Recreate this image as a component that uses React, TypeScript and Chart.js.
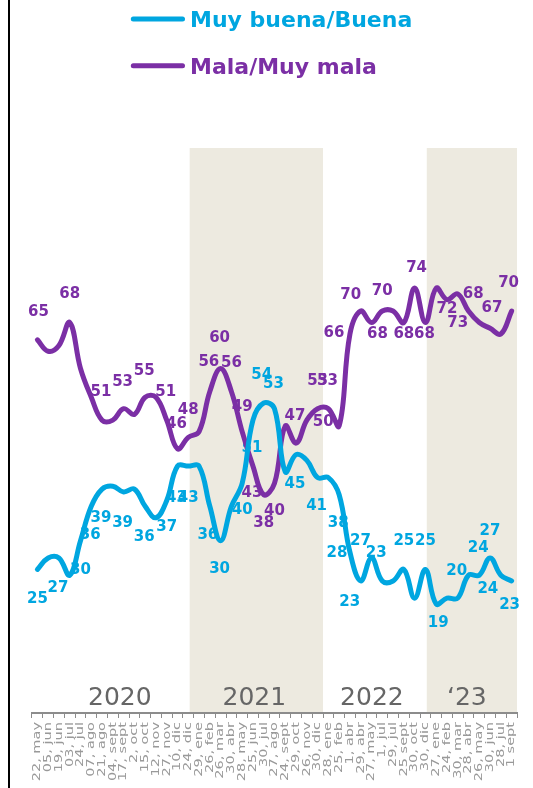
import React, { useEffect, useRef } from 'react';
import { Chart, registerables } from 'chart.js';

Chart.register(...registerables);

// ---------------- data ----------------
const categories = [
  '22, may', '05, jun', '19, jun', '03, jul', '24, jul', '07, ago', '21, ago', '04, sept', '17, sept',
  '2, oct', '15, oct', '12, nov', '27, nov', '10, dic', '24, dic',
  '29, ene', '26, feb', '26, mar', '30, abr', '28, may', '25, jun', '30, jul', '27, ago', '24, sept',
  '29, oct', '26, nov', '30, dic',
  '28, ene', '25, feb', '1, abr', '29, abr', '27, may', '1, jul', '29, jul', '25 sept', '30, oct', '30, dic',
  '27, ene', '24, feb', '30, mar', '28, abr', '26, may', '30, jun', '28, jul', '1 sept',
];

const buenaValues = [
  25, 27, 27, 24, 30, 36, 39, 39.5, 38.5, 39,
  36, 34, 37, 43, 43, 43, 36, 30, 36, 40,
  51, 54, 53, 42, 45, 44, 41, 41, 38, 28,
  23, 27, 23, 23, 25, 20, 25, 19, 20, 20,
  24, 24, 27, 24, 23,
];

const malaValues = [
  65, 63, 64, 68, 60, 55, 51, 51, 53, 52,
  55, 55, 51, 46, 48, 49, 56, 60, 56, 49,
  43, 38, 40, 50, 47, 51, 53, 53, 50, 66,
  70, 68, 70, 70, 68, 74, 68, 74, 72, 73,
  70, 68, 67, 66, 70,
];

const seriesNames = ['Muy buena/Buena', 'Mala/Muy mala'];

const years = ['2020', '2021', '2022', '\u201823'];
const yearStarts = [0, 15, 27, 37];

// which points carry a value label
const buenaLabelIdx = [0, 2, 4, 5, 6, 8, 10, 12, 13, 14, 16, 17, 19, 20, 21, 22, 24, 26, 28, 29, 30, 31, 32, 34, 36, 37, 39, 41, 42, 43, 44];
const malaLabelIdx = [0, 3, 6, 8, 10, 12, 13, 14, 16, 17, 18, 19, 20, 21, 22, 24, 26, 27, 28, 29, 30, 31, 32, 34, 35, 36, 38, 39, 41, 42, 44];

// ---------------- style ----------------
const BLUE = '#00A6E0';
const PURPLE = '#7B2FA5';
const SHADE = '#EDEAE0';
const AXIS_GREY = '#8c8c8c';
const TICK_GREY = '#999999';
const SHADED_YEARS = [false, true, false, true];
const SHADE_START_DX = -4;
const YEAR_DX = [7, -4, -5, -7];

// label offsets [dx, dy] relative to point, same order as the label index lists
const buenaLabelOffsets: [number, number][] = [
  [0, 30], [-1, 30], [0, 29], [-1, 29], [-1, 29], [-1, 31], [-1, 31], [0, 27], [-1, 32], [0, 32],
  [-2, 29], [-1, 28], [0, 27], [-1, 28], [-2, -28], [-1, -25], [-1, 29], [-1, 29], [-1, 28], [-13, 1],
  [-11, 21], [-11, -17], [-6, -28], [0, -28], [0, -28], [2, 19], [-1, -27], [-1, -27], [0, -27], [-13, 14],
  [-2, 24],
];
const malaLabelOffsets: [number, number][] = [
  [1, -28], [0, -28], [-1, -28], [-1, -27], [-1, -26], [-1, -28], [-1, -25], [0, -27], [-1, -29], [-1, -30],
  [0, -28], [0, -25], [-1, 27], [0, 28], [0, 28], [-1, -27], [0, -28], [-1, -28], [-16, -4], [-16, -1],
  [-10, -16], [6, 12], [0, -20], [0, 12], [2, -20], [-1, 12], [0, 10], [0, 29], [-6, -28], [2, -20],
  [-3, -28],
];

const decorPlugin = {
  id: 'decor',
  beforeDraw(chart: any) {
    const { ctx, chartArea, scales } = chart;
    const x = scales.x;
    const half = (x.getPixelForValue(1) - x.getPixelForValue(0)) / 2;
    ctx.save();
    ctx.fillStyle = '#ffffff';
    ctx.fillRect(0, 0, chart.width, chart.height);
    yearStarts.forEach((s, k) => {
      const end = k + 1 < yearStarts.length ? yearStarts[k + 1] - 1 : categories.length - 1;
      const x0 = x.getPixelForValue(s) - half + SHADE_START_DX;
      const x1 = x.getPixelForValue(end) + half;
      if (SHADED_YEARS[k]) {
        ctx.fillStyle = SHADE;
        ctx.fillRect(x0, chartArea.top, x1 - x0, chartArea.bottom - chartArea.top);
      }
    });
    ctx.restore();
  },
  beforeDatasetsDraw(chart: any) {
    const { ctx, chartArea, scales } = chart;
    const x = scales.x;
    const y = scales.y;
    const half = (x.getPixelForValue(1) - x.getPixelForValue(0)) / 2;
    ctx.save();
    // year labels
    ctx.font = '25px "DejaVu Sans"';
    ctx.fillStyle = '#666666';
    ctx.textAlign = 'center';
    ctx.textBaseline = 'alphabetic';
    yearStarts.forEach((s, k) => {
      const end = k + 1 < yearStarts.length ? yearStarts[k + 1] - 1 : categories.length - 1;
      const x0 = x.getPixelForValue(s) - half;
      const x1 = x.getPixelForValue(end) + half;
      ctx.fillText(years[k], (x0 + x1) / 2 + YEAR_DX[k], chartArea.bottom - 8);
    });
    // category labels (vertical, reading upward, ending near the axis)
    ctx.font = '11px "DejaVu Sans"';
    ctx.fillStyle = TICK_GREY;
    ctx.textAlign = 'right';
    ctx.textBaseline = 'middle';
    (chart.data.labels as string[]).forEach((lab, i) => {
      const px = x.getPixelForValue(i);
      ctx.save();
      ctx.translate(px, chartArea.bottom + 9);
      ctx.rotate(-Math.PI / 2);
      ctx.scale(1.32, 1);
      ctx.fillText(lab, 0, 0);
      ctx.restore();
    });
    // value labels
    ctx.font = 'bold 15px "DejaVu Sans"';
    ctx.textAlign = 'center';
    ctx.textBaseline = 'middle';
    const drawLabels = (vals: number[], idx: number[], offs: [number, number][], color: string) => {
      ctx.fillStyle = color;
      idx.forEach((i, k) => {
        const px = x.getPixelForValue(i);
        const py = y.getPixelForValue(vals[i]);
        ctx.fillText(String(Math.round(vals[i])), px + offs[k][0], py + offs[k][1]);
      });
    };
    drawLabels(malaValues, malaLabelIdx, malaLabelOffsets, PURPLE);
    drawLabels(buenaValues, buenaLabelIdx, buenaLabelOffsets, BLUE);
    ctx.restore();
  },
  afterDraw(chart: any) {
    const { ctx } = chart;
    ctx.save();
    // left black border line
    ctx.fillStyle = '#000000';
    ctx.fillRect(8, 0, 2, chart.height);
    // legend
    const rows = [
      { name: chart.data.datasets[0].label, color: BLUE, ly: 19, ty: 26.5 },
      { name: chart.data.datasets[1].label, color: PURPLE, ly: 65.7, ty: 74 },
    ];
    rows.forEach((r) => {
      ctx.strokeStyle = r.color;
      ctx.lineWidth = 5;
      ctx.lineCap = 'round';
      ctx.beginPath();
      ctx.moveTo(133.3, r.ly);
      ctx.lineTo(182.5, r.ly);
      ctx.stroke();
      ctx.fillStyle = r.color;
      ctx.font = 'bold 22px "DejaVu Sans"';
      ctx.textAlign = 'left';
      ctx.textBaseline = 'alphabetic';
      ctx.fillText(r.name, 190, r.ty);
    });
    ctx.restore();
  },
};

export default function App() {
  const ref = useRef<HTMLCanvasElement>(null);
  useEffect(() => {
    document.body.style.margin = '0';
    if (!ref.current) return;
    const chart = new Chart(ref.current, {
      type: 'line',
      data: {
        labels: categories,
        datasets: [
          {
            label: seriesNames[0],
            data: buenaValues,
            borderColor: BLUE,
            backgroundColor: BLUE,
            borderWidth: 5,
            pointRadius: 0,
            tension: 0.4,
            borderCapStyle: 'round',
            borderJoinStyle: 'round',
            fill: false,
          },
          {
            label: seriesNames[1],
            data: malaValues,
            borderColor: PURPLE,
            backgroundColor: PURPLE,
            borderWidth: 5,
            pointRadius: 0,
            tension: 0.4,
            borderCapStyle: 'round',
            borderJoinStyle: 'round',
            fill: false,
          },
        ],
      },
      options: {
        animation: false,
        responsive: true,
        maintainAspectRatio: false,
        layout: { padding: { top: 148, left: 32, right: 16, bottom: 0 } },
        plugins: { legend: { display: false }, tooltip: { enabled: false } },
        scales: {
          x: {
            offset: true,
            grid: {
              display: true,
              offset: true,
              drawOnChartArea: false,
              drawTicks: true,
              tickLength: 5,
              color: AXIS_GREY,
              lineWidth: 1,
            },
            border: { display: true, color: AXIS_GREY, width: 2 },
            ticks: { display: false, autoSkip: false },
            afterFit: (s: any) => {
              s.height = 75;
              s.paddingLeft = 0;
              s.paddingRight = 0;
            },
          },
          y: { display: false, min: 0, max: 98.4 },
        },
      } as any,
      plugins: [decorPlugin],
    });
    return () => chart.destroy();
  }, []);
  return (
    <div style={{ position: 'relative', width: 533, height: 788 }}>
      <canvas ref={ref} />
    </div>
  );
}
